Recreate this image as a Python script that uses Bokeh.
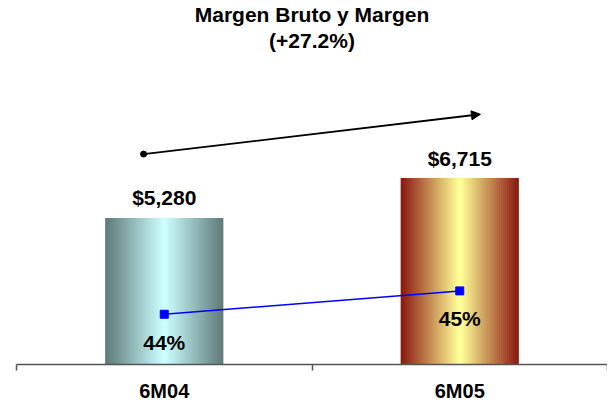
import numpy as np
from bokeh.plotting import figure
from bokeh.models import Range1d, FixedTicker, Title, Arrow, NormalHead
from bokeh.core.properties import value
from bokeh.embed import file_html
from bokeh.resources import INLINE

# ---- data ----
CATEGORIES = ["6M04", "6M05"]
GROSS_PROFIT = [5280, 6715]
GROSS_PROFIT_LABELS = ["$5,280", "$6,715"]
MARGIN_PCT = [44, 45]
MARGIN_LABELS = ["44%", "45%"]
TITLE_LINES = ["Margen Bruto y Margen", "(+27.2%)"]

# ---- styles ----
FONT = "Liberation Sans"
EDGE_COLORS = [(95, 123, 122), (139, 26, 16)]
CENTER_COLORS = [(204, 255, 255), (255, 255, 153)]
BAR_WIDTH = 0.4
Y_END = 11240
PCT_START = 41.85
PCT_END = 55.2
ARROW_GAP = 2300

xs = [i + 0.5 for i in range(len(CATEGORIES))]

p = figure(width=607, height=404, output_backend="svg", toolbar_location=None,
           x_range=Range1d(0, len(CATEGORIES)), y_range=Range1d(0, Y_END),
           min_border_left=16, min_border_right=0, min_border_top=0, min_border_bottom=0,
           background_fill_color="white", border_fill_color="white")
p.extra_y_ranges = {"pct": Range1d(PCT_START, PCT_END)}
p.outline_line_color = None
p.xgrid.visible = False
p.ygrid.visible = False
p.yaxis.visible = False

# titles (first added sits closest to the frame)
for line, so in zip(reversed(TITLE_LINES), [2, 0]):
    t = Title(text=line, align="center", text_font=FONT, text_font_style="bold",
              text_font_size="21px", text_color="black", standoff=so, offset=0)
    p.add_layout(t, "above")

# gradient bars: concentric bars from edge colour to centre colour
N = 30
for i, (x, v) in enumerate(zip(xs, GROSS_PROFIT)):
    e = np.array(EDGE_COLORS[i], dtype=float)
    c = np.array(CENTER_COLORS[i], dtype=float)
    for k in range(N):
        f = k / (N - 1)
        col = tuple(int(round(a)) for a in e + (c - e) * f)
        w = BAR_WIDTH * (1 - k / N)
        p.vbar(x=[x], top=[v], bottom=0, width=w,
               fill_color="#%02x%02x%02x" % col, line_color=None)

# value labels
p.text(x=xs, y=GROSS_PROFIT, text=GROSS_PROFIT_LABELS, y_offset=-20,
       text_align="center", text_baseline="middle", text_font=value(FONT),
       text_font_style="bold", text_font_size="21px", text_color="black")

# growth arrow
x0, x1 = xs[0] - 0.07, xs[-1] + 0.07
y0, y1 = GROSS_PROFIT[0] + ARROW_GAP, GROSS_PROFIT[-1] + ARROW_GAP
p.add_layout(Arrow(end=NormalHead(size=9, fill_color="black", line_color="black"),
                   x_start=x0, y_start=y0, x_end=x1, y_end=y1,
                   line_width=1.8, line_color="black"))
p.scatter(x=[x0], y=[y0], marker="circle", size=6, color="black")

# margin line
p.line(x=xs, y=MARGIN_PCT, y_range_name="pct", line_color="#0000ff", line_width=1.5)
p.scatter(x=xs, y=MARGIN_PCT, y_range_name="pct", marker="square", size=8,
          fill_color="#0000ff", line_color="#0000ff")
p.text(x=xs, y=MARGIN_PCT, text=MARGIN_LABELS, y_range_name="pct", y_offset=28,
       text_align="center", text_baseline="middle", text_font=value(FONT),
       text_font_style="bold", text_font_size="21px", text_color="black")

# x axis with ticks at category boundaries
ax = p.xaxis[0]
ax.ticker = FixedTicker(ticks=xs, minor_ticks=list(range(len(CATEGORIES) + 1)))
ax.major_label_overrides = {x: c for x, c in zip(xs, CATEGORIES)}
ax.major_tick_out = 0
ax.major_tick_in = 0
ax.minor_tick_out = 6
ax.minor_tick_in = 0
ax.minor_tick_line_color = "#555555"
ax.minor_tick_line_width = 1.5
ax.axis_line_color = "#555555"
ax.axis_line_width = 1.5
ax.major_label_standoff = 9
ax.major_label_text_font = FONT
ax.major_label_text_font_style = "bold"
ax.major_label_text_font_size = "20px"
ax.major_label_text_color = "black"

open("out.html", "w").write(file_html(p, INLINE))
